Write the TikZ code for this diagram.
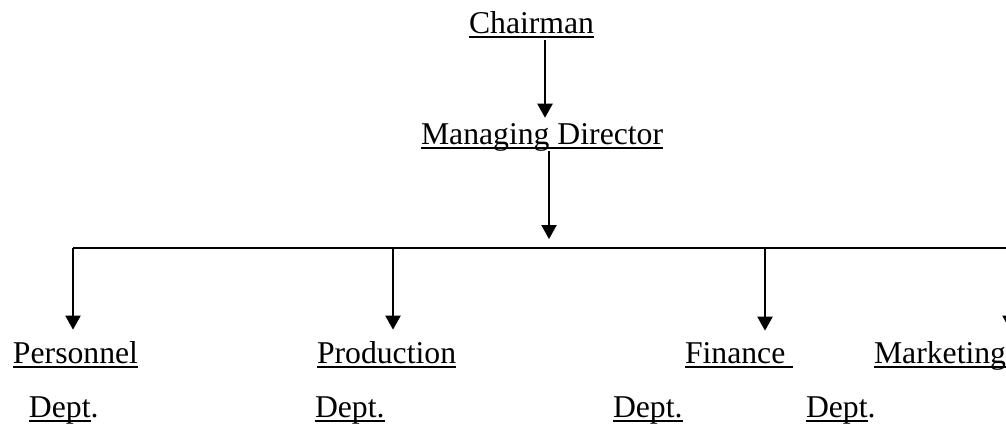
\documentclass[tikz,border=0pt]{standalone}
\usepackage{fontspec}
\setmainfont{Liberation Serif}
\usetikzlibrary{arrows.meta}
\newcommand\ulx[1]{\setbox0\hbox{#1}\rlap{\rule[-1.8pt]{\wd0}{0.7pt}}\box0}
\def\upx{0.3785pt}
\tikzset{
  lbl/.style={inner sep=0pt, outer sep=0pt, anchor=base west, font=\fontsize{12pt}{14pt}\selectfont},
  arr/.style={line width=0.75pt, -{Triangle[length=5.3pt,width=5.7pt]}},
  busline/.style={line width=0.95pt},
}
\begin{document}
\begin{tikzpicture}[x=0.3785pt, y=-0.3785pt]
\clip (0,0) rectangle (1006,426);
\fill[white] (0,0) rectangle (1006,426);
% nodes
\node[lbl] (ch) at (469,33) {\ulx{Chairman}};
\node[lbl] (md) at (421,144) {\ulx{Managing Director}};
\node[lbl] (per) at (13,363) {\ulx{Personnel}};
\node[lbl] (perd) at (29,417) {\ulx{Dept}.};
\node[lbl] (pro) at (317,363) {\ulx{Production}};
\node[lbl] (prod) at (315,417) {\ulx{Dept.}};
\node[lbl] (fin) at (685,363) {\ulx{Finance\ }};
\node[lbl] (find) at (613,417) {\ulx{Dept.}};
\node[lbl] (mkt) at (874,363) {\ulx{Marketing}};
\node[lbl] (mktd) at (806,417) {\ulx{Dept}.};
% bus
\coordinate (jP) at (73,248);
\coordinate (jR) at (393,248);
\coordinate (jF) at (765,248);
\coordinate (jM) at (1010,248);
\coordinate (hub) at (549,248);
% connectors
\draw[arr, shorten <=0.8pt, shorten >=2pt] ([xshift=13.5*\upx]ch.south) -- ([xshift=13.5*\upx]ch.south |- md.north);
\draw[arr, shorten >=3.4pt] (md.south -| hub) -- (hub);
\draw[busline] (jP) -- (jM);
\draw[arr, shorten >=4.3pt] (jP) -- (jP |- per.north);
\draw[arr, shorten >=4.3pt] (jR) -- (jR |- pro.north);
\draw[arr, shorten >=4.3pt] (jF) -- (jF |- fin.north);
\draw[arr, shorten >=4.3pt] (jM) -- (jM |- mkt.north);
\end{tikzpicture}
\end{document}
